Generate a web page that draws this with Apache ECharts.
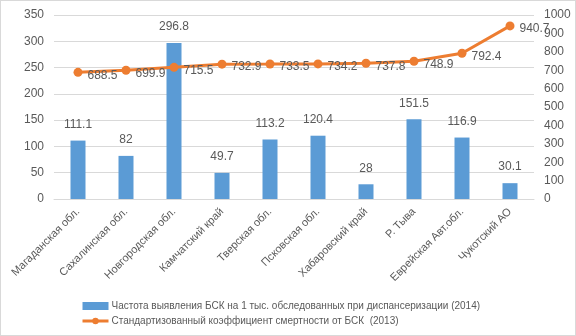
<!DOCTYPE html>
<html>
<head>
<meta charset="utf-8">
<script src="https://cdn.jsdelivr.net/npm/echarts@6/dist/echarts.min.js"></script>
<style>
  html, body { margin: 0; padding: 0; background: #fff; }
  #chart { width: 574px; height: 334px; border: 1px solid #d9d9d9; }
</style>
</head>
<body>
<div id="chart"></div>
<script>
// Data
let regions = ["Магаданская обл.", "Сахалинская обл.", "Новгородская обл.", "Камчатский край",
    "Тверская обл.", "Псковская обл.", "Хабаровский край", "Р. Тыва", "Еврейская Авт.обл.", "Чукотский АО"];
let detection_rate = [111.1, 82, 296.8, 49.7, 113.2, 120.4, 28, 151.5, 116.9, 30.1];
let mortality_rate = [688.5, 699.9, 715.5, 732.9, 733.5, 734.2, 737.8, 748.9, 792.4, 940.7];
let name_bar = "Частота выявления БСК на 1 тыс. обследованных при диспансеризации (2014)";
let name_line = "Стандартизованный коэффициент смертности от БСК  (2013)";

let chart_dom = document.getElementById("chart");
let chart = echarts.init(chart_dom);

let text_color = "#595959";
let font_family = "'Liberation Sans', Arial, sans-serif";

let option = {
    backgroundColor: "#fff",
    textStyle: { fontFamily: font_family },
    grid: { left: 53, right: 41, top: 14, bottom: 136 },
    legend: {
        orient: "vertical",
        left: 75,
        top: 295,
        itemGap: 5,
        itemWidth: 26,
        itemHeight: 8,
        textStyle: { color: text_color, fontSize: 10, fontFamily: font_family, padding: [0, 0, 0, -2] },
        data: [
            { name: name_bar, icon: "rect", itemStyle: { color: "#5B9BD5" } },
            { name: name_line, itemStyle: { color: "#ED7D31" }, lineStyle: { width: 3 } }
        ]
    },
    xAxis: {
        type: "category",
        data: regions,
        axisLine: { lineStyle: { color: "#d9d9d9" } },
        axisTick: { show: false },
        axisLabel: { rotate: 45, color: text_color, fontSize: 11, interval: 0, margin: 11 }
    },
    yAxis: [
        {
            type: "value", min: 0, max: 350, interval: 50,
            axisLine: { show: false }, axisTick: { show: false },
            axisLabel: { color: text_color, fontSize: 12, margin: 10 },
            splitLine: { lineStyle: { color: "#d9d9d9" } }
        },
        {
            type: "value", min: 0, max: 1000, interval: 100,
            axisLine: { show: false }, axisTick: { show: false },
            axisLabel: { color: text_color, fontSize: 12, margin: 10, formatter: function (v) { return String(v); } },
            splitLine: { show: false }
        }
    ],
    series: [
        {
            name: name_bar,
            type: "bar",
            yAxisIndex: 0,
            data: detection_rate,
            barWidth: 15,
            itemStyle: { color: "#5B9BD5" },
            label: { show: true, position: "top", distance: 10, color: text_color, fontSize: 12 }
        },
        {
            name: name_line,
            type: "line",
            yAxisIndex: 1,
            data: mortality_rate,
            symbol: "circle",
            symbolSize: 9,
            lineStyle: { color: "#ED7D31", width: 3 },
            itemStyle: { color: "#ED7D31" },
            label: { show: true, position: "right", distance: 5, offset: [0, 3], color: text_color, fontSize: 12 }
        }
    ]
};
if (option && typeof option === "object") {
    chart.setOption(option, true);
}
</script>
</body>
</html>
